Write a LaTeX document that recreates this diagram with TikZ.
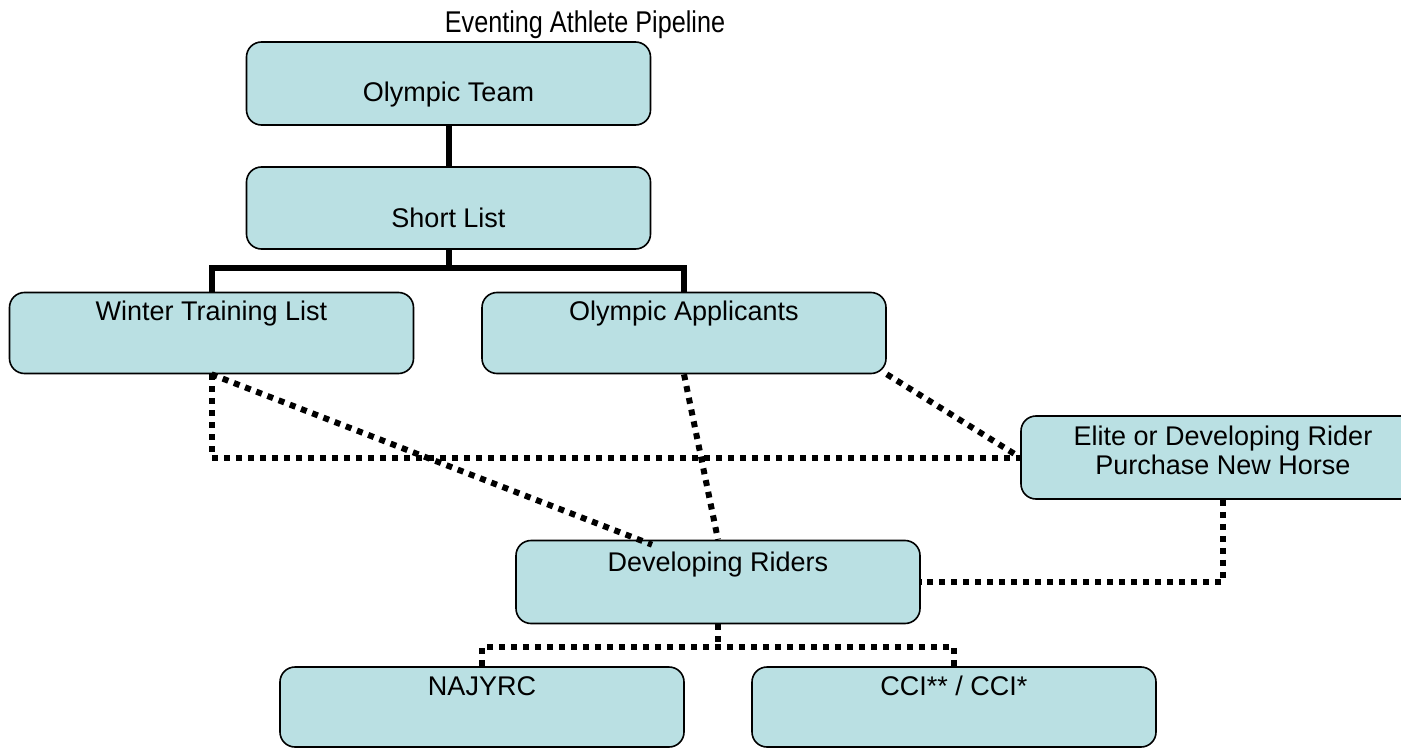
\documentclass[tikz,border=0pt]{standalone}
\usepackage{fontspec}
\setmainfont{Liberation Sans}
\definecolor{boxfill}{RGB}{186,224,227}
\begin{document}
\begin{tikzpicture}[x=1pt,y=-1pt,
  box/.style={draw=black,fill=boxfill,line width=1.6pt,rounded corners=15pt,minimum width=#1,inner sep=0pt},
  box/.default=404pt,
  lbl/.style={anchor=base,inner sep=0pt,font=\fontsize{27}{29}\selectfont},
  solidconn/.style={line width=6pt,draw=black},
  dotconn/.style={line width=6pt,draw=black,dash pattern=on 6pt off 6pt}]
\clip (0,0) rectangle (1401,749);
\useasboundingbox (0,0) rectangle (1401,749);
% title
\node[anchor=base,inner sep=0pt,font=\fontsize{30}{32}\selectfont,xscale=0.84] (title) at (585,33) {Eventing Athlete Pipeline};
% boxes
\node[box,minimum height=83pt] (ot) at (448.5,83.5) {};
\node[box,minimum height=82pt] (sl) at (448.5,208) {};
\node[box,minimum height=81pt] (wtl) at (211.5,333) {};
\node[box,minimum height=81pt] (oa) at (684,333) {};
\node[box,minimum height=83pt] (el) at (1223,457.5) {};
\node[box,minimum height=83pt] (dr) at (718,582) {};
\node[box,minimum height=80pt] (naj) at (482,707) {};
\node[box,minimum height=80pt] (cci) at (954,707) {};
% labels
\node[lbl] (ott) at (448.5,102) {Olympic Team};
\node[lbl] (slt) at (448.5,227) {Short List};
\node[lbl] (wtlt) at (211.5,320) {Winter Training List};
\node[lbl] (oat) at (684,320) {Olympic Applicants};
\node[lbl] (elt1) at (1223,445) {Elite or Developing Rider};
\node[lbl] (elt2) at (1223,474) {Purchase New Horse};
\node[lbl] (drt) at (718,571) {Developing Riders};
\node[lbl] (najt) at (482,695) {NAJYRC};
\node[lbl] (ccit) at (954,695) {CCI** / CCI*};
% solid connectors
\coordinate (b1) at (448.5,268);
\draw[solidconn] (ot.south) -- (sl.north);
\draw[solidconn] (sl.south) -- (b1);
\draw[solidconn] (wtl.north) |- (b1) -| (oa.north);
% dotted connectors
\draw[dotconn] (wtl.south) |- (el.west);
\draw[dotconn] (wtl.south) -- ([xshift=-66pt,yshift=-5pt]dr.north);
\draw[dotconn] (oa.south) -- (dr.north);
\draw[dotconn] (oa.south east) -- (el.west);
\draw[dotconn] (el.south) |- (dr.east);
\coordinate (b2) at (718,647);
\draw[dotconn] (dr.south) -- (b2);
\draw[dotconn] (naj.north) |- (b2) -| (cci.north);
\end{tikzpicture}
\end{document}
